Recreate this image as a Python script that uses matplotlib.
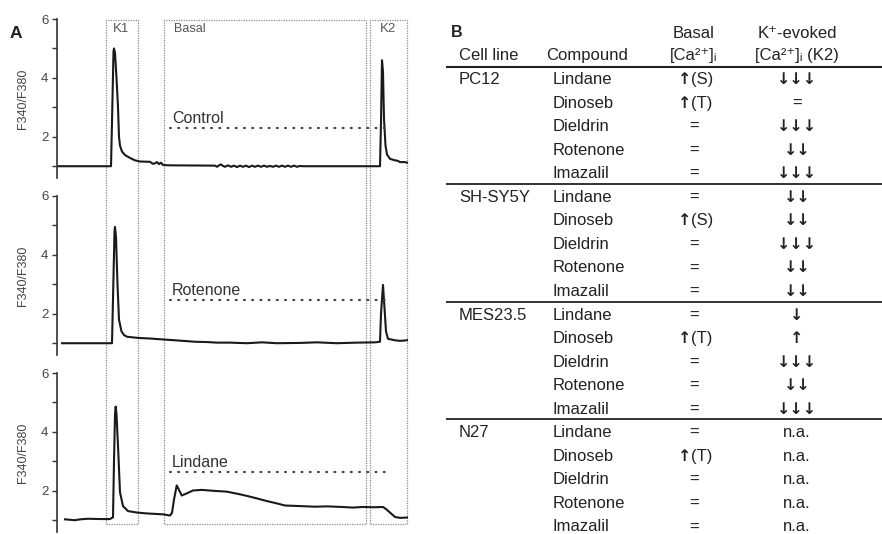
import matplotlib
matplotlib.use('Agg')
import matplotlib.pyplot as plt
from matplotlib.transforms import blended_transform_factory
from matplotlib.patches import Rectangle

plt.rcParams['font.family'] = ['Liberation Sans', 'DejaVu Sans']

# ---------------- Panel A data (time in arbitrary units, ratio F340/F380) ----------------
control_t = [0, 54, 55, 56.5, 57, 58, 59.5, 61, 62, 63, 65, 68, 73, 78, 83, 93, 96, 98, 100, 102, 104, 106,
             113, 158, 160, 162, 164, 166, 168, 171, 174, 177, 180, 183, 186, 189, 192, 195, 198, 201,
             204, 207, 210, 213, 216, 219, 222, 225, 228, 231, 234, 237, 240, 243, 246, 313, 323, 324,
             325, 326, 327, 328.5, 330, 333, 338, 341, 343, 348, 350]
control_y = [1.0, 1.0, 2.5, 4.9, 5.0, 4.85, 4.0, 3.0, 2.0, 1.7, 1.5, 1.38, 1.28, 1.2, 1.16, 1.15, 1.08, 1.1,
             1.14, 1.07, 1.12, 1.04, 1.03, 1.02, 0.98, 1.03, 1.06, 1.01, 0.98, 1.03, 0.98, 1.02, 0.97, 1.02,
             0.98, 1.02, 0.97, 1.02, 0.98, 1.02, 0.98, 1.02, 0.98, 1.01, 0.98, 1.02, 0.98, 1.02, 0.98, 1.02,
             0.98, 1.02, 0.98, 1.01, 1.0, 1.0, 1.0, 2.5, 4.6, 4.2, 2.6, 1.7, 1.4, 1.25, 1.2, 1.18, 1.14,
             1.14, 1.12]

rotenone_t = [5, 55, 56, 57.5, 58, 59, 60.5, 62, 64.5, 67, 70, 81, 93, 105, 118, 138, 150, 160, 173, 190,
              205, 220, 243, 260, 280, 300, 318, 323, 324, 326, 327.5, 329, 331, 338, 343, 350]
rotenone_y = [1.0, 1.0, 2.5, 4.8, 4.95, 4.6, 3.0, 1.8, 1.4, 1.28, 1.22, 1.18, 1.16, 1.13, 1.1, 1.05, 1.04,
              1.02, 1.02, 1.0, 1.03, 1.0, 1.01, 1.03, 1.0, 1.02, 1.03, 1.05, 2.0, 2.98, 2.2, 1.4, 1.15,
              1.1, 1.08, 1.1]

lindane_t = [8, 18, 23, 31, 43, 53, 56, 57, 58, 58.7, 59.5, 61.3, 63, 66, 71, 80, 90, 106, 113, 115, 117,
             119.7, 121, 124.7, 129.7, 136, 144.7, 156, 170, 183, 193, 200, 210, 220, 228, 243, 258, 270,
             285, 296, 306, 316, 326, 329, 333, 338, 343, 350]
lindane_y = [1.03, 1.0, 1.03, 1.05, 1.04, 1.04, 1.1, 3.0, 4.6, 4.86, 4.6, 3.3, 1.95, 1.48, 1.31, 1.26, 1.23,
             1.2, 1.16, 1.25, 1.7, 2.18, 2.1, 1.84, 1.91, 2.01, 2.03, 2.0, 1.97, 1.88, 1.8, 1.74, 1.65,
             1.57, 1.5, 1.48, 1.46, 1.47, 1.45, 1.43, 1.45, 1.44, 1.45, 1.38, 1.26, 1.11, 1.08, 1.09]

trace_names = ['Control', 'Rotenone', 'Lindane']
trace_levels = [2.3, 2.47, 2.63]           # dotted reference levels
level_span = (113, 335)                     # time span of the dotted reference lines
windows = {'K1': (48.5, 80.5), 'Basal': (107, 309), 'K2': (313, 349.5)}

# ---------------- Panel B data ----------------
cell_lines = ['PC12', 'SH-SY5Y', 'MES23.5', 'N27']
compounds = ['Lindane', 'Dinoseb', 'Dieldrin', 'Rotenone', 'Imazalil']
basal_pc12 = ['↑(S)', '↑(T)', '=', '=', '=']
basal_shsy5y = ['=', '↑(S)', '=', '=', '=']
basal_mes = ['=', '↑(T)', '=', '=', '=']
basal_n27 = ['=', '↑(T)', '=', '=', '=']
k2_pc12 = ['↓↓↓', '=', '↓↓↓', '↓↓', '↓↓↓']
k2_shsy5y = ['↓↓', '↓↓', '↓↓↓', '↓↓', '↓↓']
k2_mes = ['↓', '↑', '↓↓↓', '↓↓', '↓↓↓']
k2_n27 = ['n.a.', 'n.a.', 'n.a.', 'n.a.', 'n.a.']

# ---------------- Figure ----------------
W, H = 882, 534
fig = plt.figure(figsize=(W / 100, H / 100), dpi=100)

TRACE_COL = '#1a1a1a'
TEXT_COL = '#333333'
BOX_COL = '#8a8a8a'

ax_left, ax_w = 57, 353
ax_tops = [19, 196, 373]
ax_h = 159
axes = []
traces = [(control_t, control_y), (rotenone_t, rotenone_y), (lindane_t, lindane_y)]
for i, top in enumerate(ax_tops):
    ax = fig.add_axes([ax_left / W, 1 - (top + ax_h) / H, ax_w / W, ax_h / H])
    ax.patch.set_visible(False)
    t, y = traces[i]
    ax.plot(t, y, color=TRACE_COL, lw=1.5, solid_joinstyle='round')
    ax.plot(level_span, [trace_levels[i]] * 2, color='#444444', lw=1.6,
            linestyle=(0, (0.4, 3.3)), dash_capstyle='round')
    ax.text(level_span[0] + 2, trace_levels[i] + 0.17, trace_names[i], fontsize=11.5,
            color=TEXT_COL, ha='left', va='baseline')
    ax.set_xlim(0, 353)
    ax.set_ylim(0.6, 6.0)
    ax.set_yticks([1, 2, 3, 4, 5, 6])
    ax.set_yticklabels(['', '2', '', '4', '', '6'])
    ax.set_xticks([])
    for s in ['top', 'right', 'bottom']:
        ax.spines[s].set_visible(False)
    ax.spines['left'].set_color('#333333')
    ax.spines['left'].set_linewidth(1.2)
    ax.tick_params(axis='y', direction='out', length=3.6, width=1.0, color='#333333',
                   labelcolor='#444444', labelsize=9.5, pad=2.5)
    ax.set_ylabel('F340/F380', fontsize=9, color='#444444')
    ax.yaxis.set_label_coords(-34 / ax_w, 0.5)
    ax.yaxis.label.set_va('center')
    axes.append(ax)

# dotted analysis windows spanning all three traces
ax0 = axes[0]
tr = blended_transform_factory(ax0.transData, fig.transFigure)
box_top, box_bot = 1 - 20 / H, 1 - 524 / H
for name, (t0, t1) in windows.items():
    ax0.add_patch(Rectangle((t0, box_bot), t1 - t0, box_top - box_bot, transform=tr,
                            fill=False, edgecolor=BOX_COL, lw=0.9, linestyle=(0, (1, 1)),
                            clip_on=False))
    if name == 'Basal':
        ax0.text(t0 + 10, 1 - 29 / H, name, transform=tr, fontsize=9, color='#555555',
                 ha='left', va='center')
    else:
        ax0.text((t0 + t1) / 2, 1 - 29 / H, name, transform=tr, fontsize=9.5, color='#555555',
                 ha='center', va='center')

fig.text(10 / W, 1 - 38 / H, 'A', fontsize=12.5, fontweight='bold', color='#222222',
         ha='left', va='baseline')

# ---------------- Panel B table ----------------
axt = fig.add_axes([0, 0, 1, 1])
axt.set_xlim(0, W)
axt.set_ylim(H, 0)
axt.axis('off')
axt.patch.set_visible(False)

ROW0, PITCH = 78, 23.55
def row_y(r):
    return ROW0 + PITCH * r

X_CELL, X_COMP_HEAD, X_COMP, X_BASAL, X_K2 = 459, 546, 553, 694, 797
FS = 12
TC = '#222222'
ARROW_FONT = dict(family=['DejaVu Sans'], fontweight='bold', fontsize=11.5)

def cell_text(x, y, s, ha='center'):
    if any(ch in s for ch in '↑↓'):
        arrows = ''.join(ch for ch in s if ch in '↑↓')
        rest = s[len(arrows):]
        if rest:
            axt.text(x - 3, y, arrows, color=TC, ha='right', va='baseline', **ARROW_FONT)
            axt.text(x - 3, y, rest, fontsize=FS, color=TC, ha='left', va='baseline')
        else:
            axt.text(x, y, arrows, color=TC, ha=ha, va='baseline', **ARROW_FONT)
    else:
        axt.text(x, y, s, fontsize=FS, color=TC, ha=ha, va='baseline')

axt.text(451, 37, 'B', fontsize=11.5, fontweight='bold', color=TC, ha='left', va='baseline')
axt.text(X_CELL, 60, 'Cell line', fontsize=FS, color=TC, ha='left', va='baseline')
axt.text(X_COMP_HEAD, 60, 'Compound', fontsize=FS, color=TC, ha='left', va='baseline')
axt.text(X_BASAL, 38, 'Basal', fontsize=FS, color=TC, ha='center', va='baseline')
axt.text(X_BASAL, 60, '[Ca²⁺]ᵢ', fontsize=FS, color=TC, ha='center', va='baseline')
axt.text(X_K2, 38, 'K⁺-evoked', fontsize=FS, color=TC, ha='center', va='baseline')
axt.text(X_K2, 60, '[Ca²⁺]ᵢ (K2)', fontsize=FS, color=TC, ha='center', va='baseline')
axt.plot([446, W], [row_y(-0.47)] * 2, color='#222222', lw=1.5, solid_capstyle='butt')

basal_cols = [basal_pc12, basal_shsy5y, basal_mes, basal_n27]
k2_cols = [k2_pc12, k2_shsy5y, k2_mes, k2_n27]
for g, (cl, bas, k2) in enumerate(zip(cell_lines, basal_cols, k2_cols)):
    r0 = 5 * g
    if g > 0:
        axt.plot([446, W], [row_y(r0 - 0.5)] * 2, color='#222222', lw=1.3, solid_capstyle='butt')
    axt.text(X_CELL, row_y(r0) + 6, cl, fontsize=FS, color=TC, ha='left', va='baseline')
    for j, comp in enumerate(compounds):
        yb = row_y(r0 + j) + 6
        axt.text(X_COMP, yb, comp, fontsize=FS, color=TC, ha='left', va='baseline')
        cell_text(X_BASAL, yb, bas[j])
        cell_text(X_K2, yb, k2[j])

fig.savefig('out.png', dpi=100)
